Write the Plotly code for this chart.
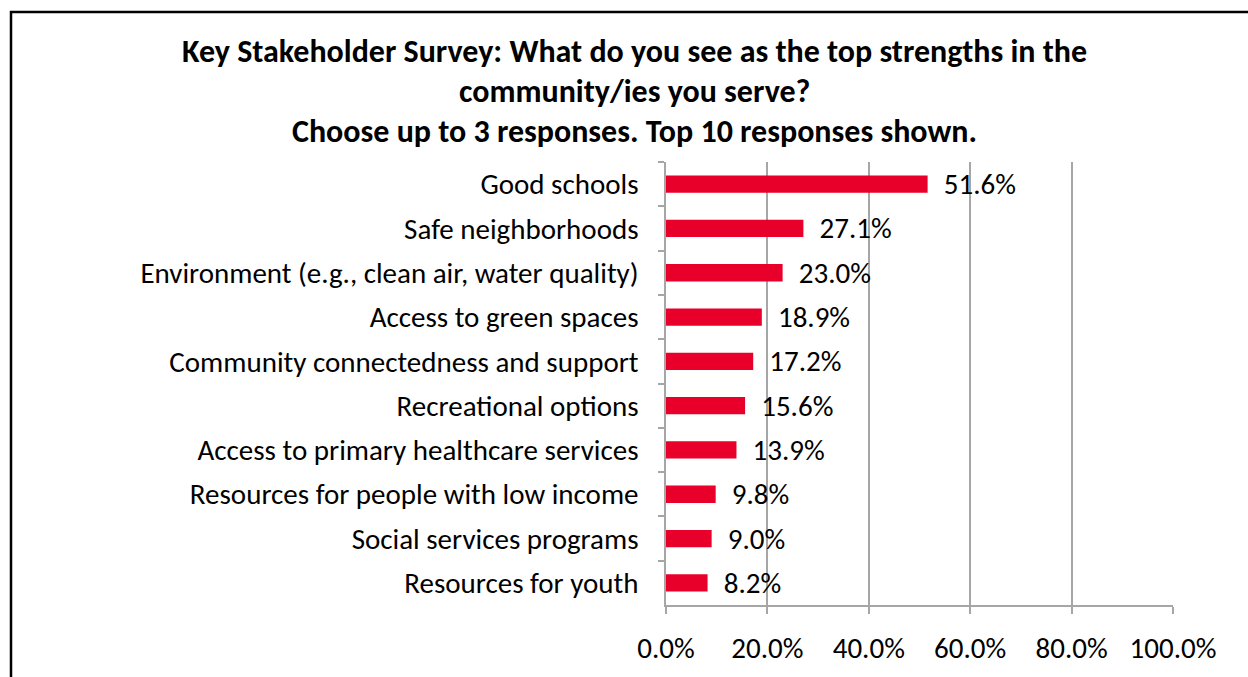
import plotly.graph_objects as go

categories = [
    "Good schools",
    "Safe neighborhoods",
    "Environment (e.g., clean air, water quality)",
    "Access to green spaces",
    "Community connectedness and support",
    "Recreational options",
    "Access to primary healthcare services",
    "Resources for people with low income",
    "Social services programs",
    "Resources for youth",
]
values = [51.6, 27.1, 23.0, 18.9, 17.2, 15.6, 13.9, 9.8, 9.0, 8.2]
tick_vals = [0, 20, 40, 60, 80, 100]
tick_text = ["0.0%", "20.0%", "40.0%", "60.0%", "80.0%", "100.0%"]
title_lines = [
    "Key Stakeholder Survey: What do you see as the top strengths in the",
    "community/ies you serve?",
    "Choose up to 3 responses. Top 10 responses shown.",
]

W, H = 1248, 677
L, R, T, B = 666, 75, 162, 72
FONT = "Carlito, Calibri, Lato, sans-serif"
FS = 29

fig = go.Figure(go.Bar(
    y=categories,
    x=values,
    orientation="h",
    marker=dict(color="#E8002A", line=dict(width=0)),
    width=0.39,
    text=[f"  {v:.1f}%" for v in values],
    textposition="outside",
    constraintext="none",
    textfont=dict(size=FS, color="#000000", family=FONT),
    cliponaxis=False,
))

fig.update_layout(
    width=W, height=H,
    margin=dict(l=L, r=R, t=T, b=B, pad=0),
    paper_bgcolor="white",
    plot_bgcolor="white",
    showlegend=False,
    font=dict(family=FONT, size=FS, color="#000000"),
    xaxis=dict(
        range=[0, 100],
        tickvals=tick_vals,
        ticktext=tick_text,
        showgrid=True,
        gridcolor="#A6A6A6",
        gridwidth=2,
        zeroline=False,
        showline=True,
        linecolor="#A6A6A6",
        linewidth=2,
        ticks="outside",
        ticklen=7,
        tickwidth=2,
        tickcolor="#A6A6A6",
        ticklabelstandoff=9,
        tickfont=dict(size=FS, family=FONT),
        fixedrange=True,
    ),
    yaxis=dict(
        autorange="reversed",
        showline=True,
        linecolor="#A6A6A6",
        linewidth=2,
        ticks="outside",
        tickson="boundaries",
        ticklen=6,
        tickwidth=2,
        tickcolor="#A6A6A6",
        showgrid=False,
        ticksuffix="   ",
        tickfont=dict(size=FS, family=FONT),
        fixedrange=True,
    ),
)

# title lines
cx = (634.5 - L) / (W - L - R)
for i, (line, ypx) in enumerate(zip(title_lines, [52, 92, 132])):
    fig.add_annotation(
        text=f"<b>{line}</b>",
        xref="paper", yref="paper",
        x=cx, y=1 + (T - ypx) / (H - T - B),
        xanchor="center", yanchor="middle",
        showarrow=False,
        font=dict(size=32, family=FONT, color="#000000"),
    )

# outer chart border
pw, ph = W - L - R, H - T - B
fig.add_shape(
    type="rect", xref="paper", yref="paper",
    x0=(11 - L) / pw, x1=(W + 20 - L) / pw,
    y0=-(B + 20) / ph, y1=1 + (T - 12) / ph,
    line=dict(color="black", width=2.5),
    fillcolor="rgba(0,0,0,0)",
    layer="above",
)

fig.write_html("out.html", config={"displayModeBar": False})
